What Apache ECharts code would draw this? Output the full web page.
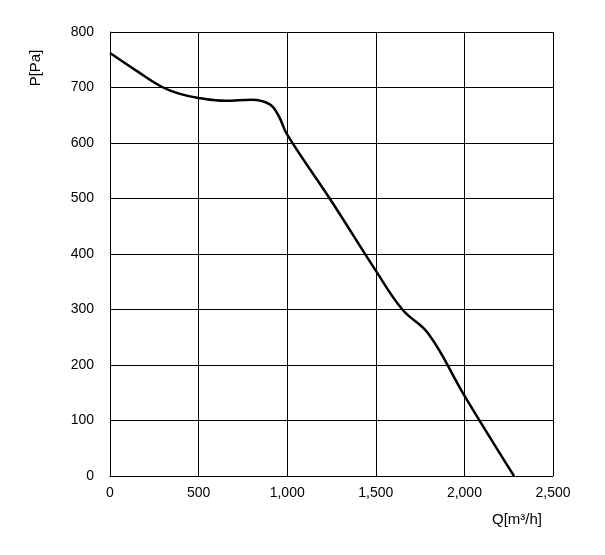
<!DOCTYPE html>
<html><head><meta charset="utf-8">
<script src="https://cdn.jsdelivr.net/npm/echarts@6/dist/echarts.min.js"></script>
<style>html,body{margin:0;padding:0;background:#fff}#c{width:605px;height:555px}</style>
</head><body><div id="c"></div>
<script>
const flowQ = [0,150,300,400,500,650,800,900,950,1000,1250,1500,1650,1800,2000,2280];
const pressureP = [762,730,700,688,681,676,678,670,650,615,495,370,300,255,145,0];
const chart = echarts.init(document.getElementById('c'));
chart.setOption({
  animation:false,
  grid:{left:110,right:52,top:32,bottom:79},
  xAxis:{type:'value',min:0,max:2500,interval:500,
    axisLine:{lineStyle:{color:'#000'}},axisTick:{show:false},
    splitLine:{lineStyle:{color:'#000',width:1}},
    axisLabel:{color:'#000',fontSize:14,fontFamily:'Liberation Sans',margin:10}},
  yAxis:{type:'value',min:0,max:800,interval:100,
    axisLine:{show:true,lineStyle:{color:'#000'}},axisTick:{show:false},
    splitLine:{lineStyle:{color:'#000',width:1}},
    axisLabel:{color:'#000',fontSize:14,fontFamily:'Liberation Sans',margin:16}},
  graphic:[
    {type:'text',left:492,top:512,style:{text:'Q[m³/h]',fill:'#000',font:'15px Liberation Sans'}},
    {type:'text',x:36,y:68,rotation:Math.PI/2,style:{text:'P[Pa]',fill:'#000',font:'15px Liberation Sans',align:'center',verticalAlign:'middle'}}
  ],
  series:[{type:'line',smooth:0.4,showSymbol:false,
    data:flowQ.map((q,i)=>[q,pressureP[i]]),
    lineStyle:{color:'#000',width:2.5}}]
});
</script></body></html>
